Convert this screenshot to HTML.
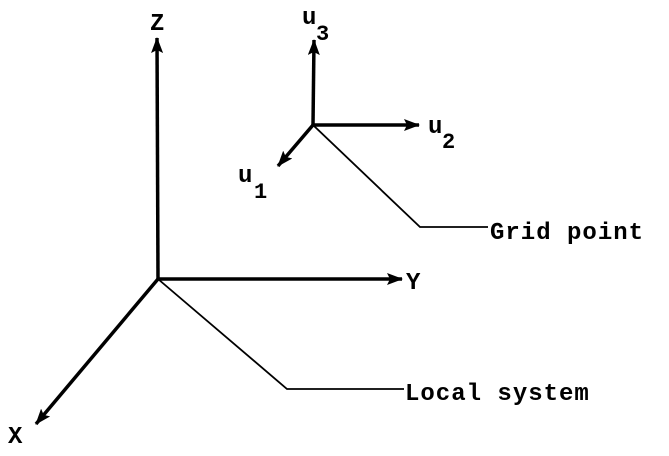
<!DOCTYPE html>
<html><head><style>
html,body{margin:0;padding:0;background:#fff;}
svg{display:block}
text{font-family:"Liberation Mono",monospace;fill:#000;font-weight:bold;}
</style></head><body>
<svg width="669" height="456" viewBox="0 0 669 456">
<defs>
<marker id="a" markerWidth="16" markerHeight="12" refX="15" refY="6" orient="auto" markerUnits="userSpaceOnUse">
<path d="M0,0 L16,6 L0,12 L3,6 Z" fill="#000"/>
</marker>
</defs>
<g stroke="#000" fill="none">
<line x1="158" y1="279" x2="157" y2="38" stroke-width="3.5" marker-end="url(#a)"/>
<line x1="158" y1="279" x2="402" y2="279" stroke-width="3.5" marker-end="url(#a)"/>
<line x1="158" y1="279" x2="36" y2="424" stroke-width="3.5" marker-end="url(#a)"/>
<line x1="313" y1="125" x2="314" y2="40" stroke-width="3.5" marker-end="url(#a)"/>
<line x1="313" y1="125" x2="419" y2="125" stroke-width="3.5" marker-end="url(#a)"/>
<line x1="313" y1="125" x2="278" y2="166" stroke-width="3.5" marker-end="url(#a)"/>
<polyline points="313,125 420,227 488,227" stroke-width="1.8"/>
<polyline points="158,279 287,389 404,389" stroke-width="1.8"/>
</g>
<g font-size="24" letter-spacing="1">
<text x="150" y="30">Z</text>
<text x="302" y="24">u</text><text x="316" y="40" font-size="22">3</text>
<text x="428" y="133">u</text><text x="442" y="148" font-size="22">2</text>
<text x="238" y="182">u</text><text x="254" y="198" font-size="22">1</text>
<text x="406" y="289">Y</text>
<text x="8" y="443">X</text>
<text x="490" y="239">Grid point</text>
<text x="405" y="400">Local system</text>
</g>
</svg>
</body></html>
